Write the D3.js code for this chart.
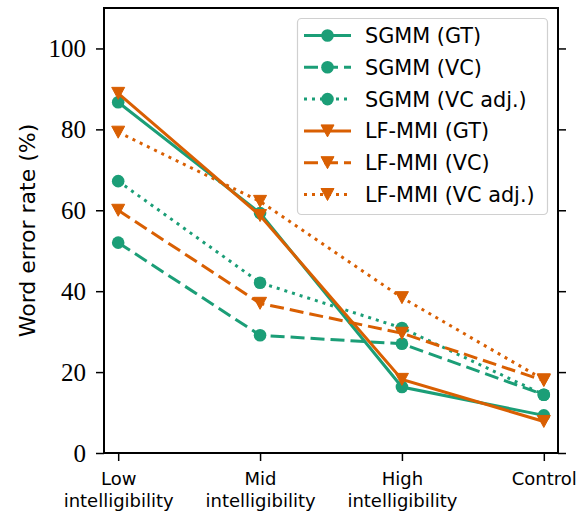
<!DOCTYPE html>
<html>
<head>
<meta charset="utf-8">
<script src="https://cdn.jsdelivr.net/npm/d3@7"></script>
<style>
  body { margin: 0; background: #fff; }
  svg { display: block; }
</style>
</head>
<body>
<svg></svg>
<script>
// Datos
const categories = ["Low intelligibility", "Mid intelligibility", "High intelligibility", "Control"];
const seriesNames = ["SGMM (GT)", "SGMM (VC)", "SGMM (VC adj.)", "LF-MMI (GT)", "LF-MMI (VC)", "LF-MMI (VC adj.)"];
const sgmmGT = [86.7, 59.3, 16.3, 9.3];
const sgmmVC = [52.0, 29.1, 27.0, 14.4];
const sgmmVCadj = [67.2, 42.1, 30.9, 14.4];
const lfmmiGT = [88.9, 58.7, 18.2, 7.8];
const lfmmiVC = [60.0, 37.0, 29.6, 17.9];
const lfmmiVCadj = [79.3, 62.2, 38.4, 18.1];
const yTicks = [0, 20, 40, 60, 80, 100];

window.onload = function () {
    const width = 581;
    const height = 512;
    const margin = { top: 8, right: 23, bottom: 59, left: 104 };

    const green = "#1b9e77";
    const orange = "#d95f02";

    const series = [
        { name: seriesNames[0], values: sgmmGT, color: green, dash: null, marker: "circle" },
        { name: seriesNames[1], values: sgmmVC, color: green, dash: "14,6", marker: "circle" },
        { name: seriesNames[2], values: sgmmVCadj, color: green, dash: "3,5", marker: "circle" },
        { name: seriesNames[3], values: lfmmiGT, color: orange, dash: null, marker: "tri" },
        { name: seriesNames[4], values: lfmmiVC, color: orange, dash: "14,6", marker: "tri" },
        { name: seriesNames[5], values: lfmmiVCadj, color: orange, dash: "3,5", marker: "tri" }
    ];

    const svg = d3.select("svg")
        .attr("width", width)
        .attr("height", height);

    const x = d3.scalePoint()
        .domain(categories)
        .range([margin.left, width - margin.right])
        .padding(0.1);

    const y = d3.scaleLinear()
        .domain([0, 110])
        .range([height - margin.bottom, margin.top]);

    // Eje Y izquierdo
    const yAxis = svg.append("g")
        .attr("transform", `translate(${margin.left},0)`)
        .call(d3.axisLeft(y).tickValues(yTicks).tickSize(8).tickPadding(10));
    yAxis.select(".domain").remove();
    yAxis.selectAll(".tick line").attr("stroke", "#000").attr("stroke-width", 1.5);
    yAxis.selectAll(".tick text")
        .attr("font-family", "'Liberation Serif', serif")
        .attr("font-size", 25)
        .attr("fill", "#000");

    // Ticks del eje derecho (sin etiquetas)
    const yAxisR = svg.append("g")
        .attr("transform", `translate(${width - margin.right},0)`)
        .call(d3.axisRight(y).tickValues(yTicks).tickSize(8).tickFormat(""));
    yAxisR.select(".domain").remove();
    yAxisR.selectAll(".tick line").attr("stroke", "#000").attr("stroke-width", 1.5);

    // Eje X
    const xAxis = svg.append("g")
        .attr("transform", `translate(0,${height - margin.bottom})`)
        .call(d3.axisBottom(x).tickSize(8).tickFormat(""));
    xAxis.select(".domain").remove();
    xAxis.selectAll(".tick line").attr("stroke", "#000").attr("stroke-width", 1.5);
    xAxis.selectAll(".tick").each(function (d) {
        const words = d.split(" ");
        const t = d3.select(this).append("text")
            .attr("font-family", "'DejaVu Sans', sans-serif")
            .attr("font-size", 18)
            .attr("fill", "#000")
            .attr("text-anchor", "middle");
        words.forEach((w, i) => {
            t.append("tspan").attr("x", 0).attr("y", 32 + i * 21.5).text(w);
        });
    });

    // Etiqueta eje Y
    svg.append("text")
        .attr("transform", `translate(35,${(margin.top + height - margin.bottom) / 2}) rotate(-90)`)
        .attr("text-anchor", "middle")
        .attr("font-family", "'DejaVu Sans', sans-serif")
        .attr("font-size", 22)
        .text("Word error rate (%)");

    // Líneas y marcadores
    const line = d3.line()
        .x((d, i) => x(categories[i]))
        .y(d => y(d));

    const triPath = "M-6.5,-6 L6.5,-6 L0,6 Z";

    function drawMarker(g, s, cx, cy) {
        if (s.marker === "circle") {
            g.append("circle")
                .attr("cx", cx).attr("cy", cy).attr("r", 6.3)
                .attr("fill", s.color);
        } else {
            g.append("path")
                .attr("d", triPath)
                .attr("transform", `translate(${cx},${cy})`)
                .attr("fill", s.color)
                .attr("stroke", s.color)
                .attr("stroke-width", 1);
        }
    }

    series.forEach(s => {
        const g = svg.append("g");
        g.append("path")
            .datum(s.values)
            .attr("d", line)
            .attr("fill", "none")
            .attr("stroke", s.color)
            .attr("stroke-width", 3)
            .attr("stroke-dasharray", s.dash);
        s.values.forEach((v, i) => drawMarker(g, s, x(categories[i]), y(v)));
    });

    // Marco
    svg.append("rect")
        .attr("x", margin.left)
        .attr("y", margin.top)
        .attr("width", width - margin.left - margin.right)
        .attr("height", height - margin.top - margin.bottom)
        .attr("fill", "none")
        .attr("stroke", "#000")
        .attr("stroke-width", 2);

    // Leyenda
    const legend = svg.append("g");
    legend.append("rect")
        .attr("x", 297.5).attr("y", 18.5)
        .attr("width", 250).attr("height", 196)
        .attr("rx", 4)
        .attr("fill", "#fff").attr("fill-opacity", 0.8)
        .attr("stroke", "#d0d0d0").attr("stroke-width", 1.2);

    series.forEach((s, i) => {
        const ly = 35.5 + i * 31.8;
        const g = legend.append("g");
        g.append("line")
            .attr("x1", 304).attr("x2", 351)
            .attr("y1", ly).attr("y2", ly)
            .attr("stroke", s.color)
            .attr("stroke-width", 3)
            .attr("stroke-dasharray", s.dash);
        drawMarker(g, s, 327.5, ly);
        g.append("text")
            .attr("x", 365).attr("y", ly)
            .attr("dy", "0.36em")
            .attr("font-family", "'DejaVu Sans', sans-serif")
            .attr("font-size", 20.8)
            .attr("fill", "#000")
            .text(s.name);
    });
};
</script>
</body>
</html>
